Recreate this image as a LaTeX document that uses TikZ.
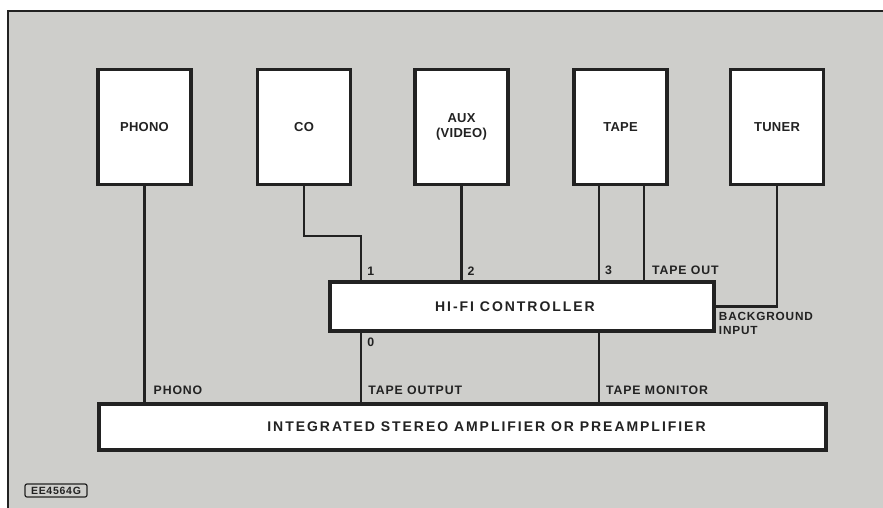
\documentclass[tikz,border=0pt]{standalone}
\usepackage{fontspec}
\usetikzlibrary{positioning,calc}
\newfontfamily\platefont[LetterSpace=2]{Liberation Sans Bold}
\newfontfamily\tagfont[LetterSpace=7]{Liberation Sans Bold}
\newfontfamily\widefont[LetterSpace=14]{Liberation Sans Bold}
\definecolor{paper}{RGB}{206,206,203}
\definecolor{ink}{RGB}{34,34,34}
\tikzset{
  srcbox/.style={draw=ink, fill=white, line width=3.5pt, minimum width=93pt,
    minimum height=115pt, inner sep=0pt, align=center, text=ink,
    font=\platefont\fontsize{13}{15}\selectfont},
  barbox/.style={draw=ink, fill=white, line width=3.5pt, inner sep=0pt, text=ink,
    font=\widefont\fontsize{14}{16}\selectfont},
  wire/.style={ink, line width=2.2pt},
  tag/.style={inner sep=0pt, text=ink, align=left,
    font=\tagfont\fontsize{12.3}{13.5}\selectfont},
}

\begin{document}
\begin{tikzpicture}[x=1pt, y=-1pt]
\useasboundingbox (0,0) rectangle (883,508);
% sheet
\fill[paper] (8,11) rectangle (883,508);
\draw[ink, line width=1.2pt] (8,508) -- (8,11) -- (883,11);

% source units
\foreach \name/\x/\txt in {phono/144.5/PHONO, co/304/CO, aux/461.5/{AUX\\(VIDEO)},
    tape/620.5/TAPE, tuner/777/TUNER}
  \node[srcbox] (\name) at (\x,127) {\txt};

% controller and amplifier
\node[barbox, minimum width=384pt, minimum height=49pt] (ctrl) at (522,306.5)
  {HI-FI CONTROLLER\hspace*{14pt}};
\node[barbox, minimum width=727pt, minimum height=46pt] (amp) at (462.5,427)
  {\hspace*{48pt}INTEGRATED STEREO AMPLIFIER OR PREAMPLIFIER};

% connection points
\coordinate (in1) at ([xshift=33pt]ctrl.north west);
\coordinate (in2) at (aux.south |- ctrl.north);
\coordinate (tapeplay) at ([xshift=-21.5pt]tape.south);
\coordinate (taperec) at ([xshift=23.5pt]tape.south);
\coordinate (in3) at (tapeplay |- ctrl.north);
\coordinate (recout) at (taperec |- ctrl.north);
\coordinate (out0) at (in1 |- ctrl.south);
\coordinate (mon) at (in3 |- ctrl.south);
\coordinate (ampphono) at (phono.south |- amp.north);
\coordinate (amptape) at (in1 |- amp.north);
\coordinate (ampmon) at (in3 |- amp.north);

% wiring
\draw[wire] (phono.south) -- (ampphono);
\draw[wire] (co.south) -- ++(0,50) -| (in1);
\draw[wire] (aux.south) -- (in2);
\draw[wire] (tapeplay) -- (in3);
\draw[wire] (taperec) -- (recout);
\draw[wire] (tuner.south) |- (ctrl.east);
\draw[wire] (out0) -- (amptape);
\draw[wire] (mon) -- (ampmon);

% wire labels
\node[tag, anchor=south west] (l1) at ([xshift=6pt,yshift=5pt]in1) {1};
\node[tag, anchor=south west] (l2) at ([xshift=6pt,yshift=5pt]in2) {2};
\node[tag, anchor=south west] (l3) at ([xshift=6pt,yshift=5pt]in3) {3};
\node[tag, anchor=south west] (lrec) at ([xshift=8pt,yshift=5pt]recout) {TAPE OUT};
\node[tag, anchor=north west, font=\tagfont\fontsize{11.8}{13.5}\selectfont] (lbg)
  at ([xshift=3pt,yshift=-6pt]ctrl.east) {BACKGROUND\\INPUT};
\node[tag, anchor=north west] (l0) at ([xshift=6pt,yshift=-5pt]out0) {0};
\node[tag, anchor=south west] (lphono) at ([xshift=9pt,yshift=7pt]ampphono) {PHONO};
\node[tag, anchor=south west] (ltape) at ([xshift=7pt,yshift=7pt]amptape) {TAPE OUTPUT};
\node[tag, anchor=south west] (lmon) at ([xshift=7pt,yshift=7pt]ampmon) {TAPE MONITOR};

% drawing number
\node[draw=ink, rounded corners=2pt, line width=1.2pt, minimum width=62pt,
  minimum height=13pt, inner sep=0pt, text=ink,
  font=\tagfont\fontsize{10.5}{11}\selectfont] (code) at (56,490.5) {EE4564G};

\end{tikzpicture}
\end{document}
